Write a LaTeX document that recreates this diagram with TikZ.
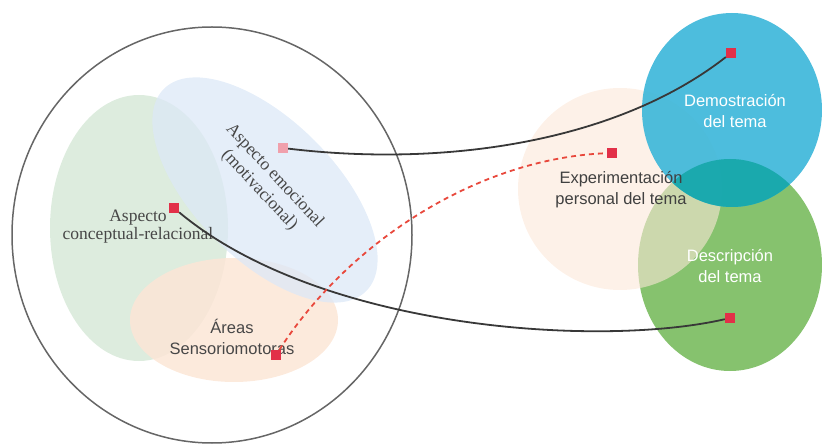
\documentclass[tikz,border=0pt]{standalone}
\usepackage{fontspec}
\setmainfont{Liberation Serif}
\newfontfamily\labelsans{Liberation Sans}
\definecolor{mindgreen}{RGB}{221,236,222}
\definecolor{mindblue}{RGB}{220,232,247}
\definecolor{mindorange}{RGB}{252,230,214}
\definecolor{peach}{RGB}{252,232,216}
\definecolor{themecyan}{RGB}{64,184,218}
\definecolor{themegreen}{RGB}{134,194,110}
\definecolor{themeteal}{RGB}{22,168,170}
\definecolor{markred}{RGB}{226,48,72}
\definecolor{markpink}{RGB}{240,160,172}
\definecolor{linkred}{RGB}{232,72,60}
\usetikzlibrary{positioning, backgrounds}
\tikzset{
  marker/.style={rectangle, fill=markred, minimum size=10pt, inner sep=0pt},
  seriflabel/.style={align=center, text=black!72, font=\fontsize{17.5}{18}\selectfont},
  sanslabel/.style={align=center, font=\labelsans\fontsize{16.5}{21}\selectfont},
  link/.style={draw=black!78, line width=1.8pt},
  dashlink/.style={draw=linkred, line width=1.8pt, dash pattern=on 5pt off 4pt}
}
\begin{document}
\begin{tikzpicture}[x=1pt, y=-1pt]
  \useasboundingbox (0,0) rectangle (822,446);

  % left: the three aspects inside the big circle
  \fill[mindgreen] (139,228) ellipse [x radius=89, y radius=133];
  \fill[mindorange, opacity=0.85] (234,320) ellipse [x radius=104, y radius=62];
  \fill[mindblue, opacity=0.75, rotate around={-45:(265,190)}] (265,190) ellipse [x radius=143, y radius=70];
  \draw[black!60, line width=1.5pt] (212,235) ellipse [x radius=200, y radius=208];

  % right: the three ways of working the theme
  \fill[themegreen] (730,265) ellipse [x radius=92, y radius=106];
  \fill[peach, opacity=0.6] (620,189) ellipse [x radius=102, y radius=101];
  \fill[themecyan, opacity=0.93] (732,110) ellipse [x radius=90, y radius=97];
  \begin{scope}
    \clip (730,265) ellipse [x radius=92, y radius=106];
    \fill[themeteal, opacity=0.9] (732,110) ellipse [x radius=90, y radius=97];
  \end{scope}

  \node[seriflabel] (conceptual) at (138,227) {Aspecto\\conceptual-relacional};
  \node[seriflabel, rotate=-47, font=\fontsize{17.5}{21}\selectfont] (emocional) at (267,183) {Aspecto emocional\\(motivacional)};
  \node[sanslabel, text=black!72] (areas) at (232,337) {Áreas\\Sensoriomotoras};
  \node[sanslabel, text=black!75] (experim) at (621,190) {Experimentación\\personal del tema};
  \node[sanslabel, text=white] (demos) at (735,111) {Demostración\\del tema};
  \node[sanslabel, text=white] (descr) at (730,266) {Descripción\\del tema};

  \node[marker, fill=markpink] (mEmo) at (283,148) {};
  \node[marker] (mCon) at (174,208) {};
  \node[marker] (mSen) at (276,355) {};
  \node[marker] (mDem) at (731,53) {};
  \node[marker] (mExp) at (612,153) {};
  \node[marker] (mDes) at (730,318) {};

  \draw[link] (mEmo) .. controls (450,168) and (620,140) .. (mDem);
  \draw[link] (mCon) .. controls (320,330) and (600,348) .. (mDes);
  \draw[dashlink] (mSen) .. controls (350,240) and (480,158) .. (mExp);
\end{tikzpicture}
\end{document}
